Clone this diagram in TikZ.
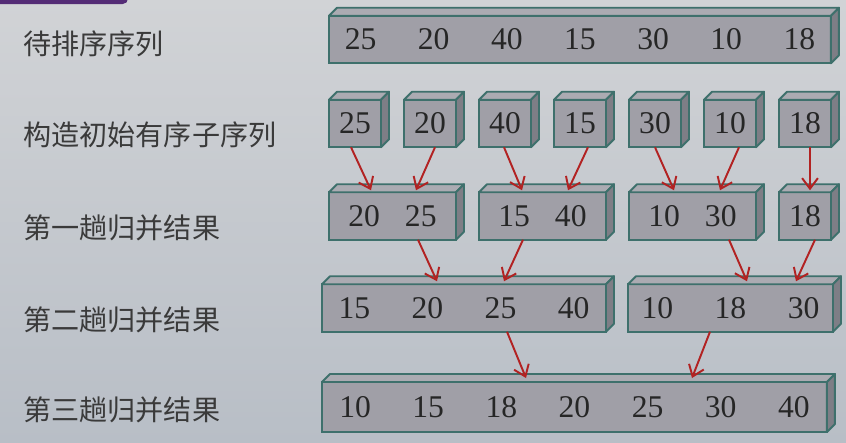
\documentclass[tikz,border=0pt]{standalone}
\usepackage{fontspec}
\setmainfont{Liberation Serif}
\newfontfamily\cjk{Noto Sans CJK SC}
\usepackage{xcolor}
\usepackage{tikz}
\usetikzlibrary{positioning,calc,arrows.meta}
\definecolor{slabfill}{RGB}{160,159,167}
\definecolor{slabtop}{RGB}{171,171,178}
\definecolor{slabside}{RGB}{126,126,134}
\definecolor{slabline}{RGB}{62,112,108}
\definecolor{mergered}{RGB}{178,34,34}
\definecolor{bgtop}{RGB}{209,211,214}
\definecolor{bgbottom}{RGB}{184,190,198}
\definecolor{barpurple}{RGB}{84,44,118}
\definecolor{labelgray}{RGB}{58,58,58}

\newcommand{\numgap}{\hspace{0.83cm}}
\newcommand{\pairgap}{\hspace{0.5cm}}
% top and right faces of a block
\newcommand{\slabfaces}[1]{%
  \filldraw[slabface, fill=slabtop] (#1.north west) -- ++(8,-8) -- ($(#1.north east)+(8,-8)$) -- (#1.north east) -- cycle;
  \filldraw[slabface, fill=slabside] (#1.north east) -- ++(8,-8) -- ($(#1.south east)+(8,-8)$) -- (#1.south east) -- cycle;}

\begin{document}
\begin{tikzpicture}[
  x=0.02cm, y=-0.02cm,
  % front face of a block
  slab/.style={
    draw=slabline,
    fill=slabfill,
    line width=1.1pt,
    minimum height=0.95cm,
    inner sep=0pt, outer sep=0pt,
    text=black!85,
    font=\fontsize{18}{20}\selectfont
  },
  slabface/.style={draw=slabline, line width=1.1pt, line join=round},
  % row labels on the left
  lab/.style={anchor=west, inner sep=0pt, text=labelgray, font=\cjk\fontsize{16}{18}\selectfont},
  merge/.style={draw=mergered, line width=1.1pt, -{Straight Barb[length=6pt,width=9pt]}}
  ]
  % background
  \useasboundingbox (0,0) rectangle (846,443);
  \shade[top color=bgtop, bottom color=bgbottom] (0,0) rectangle (846,443);
  \fill[barpurple, rounded corners=3pt] (-10,-10) rectangle (128,4);

  % labels
  \node[lab] (l1) at (23,44)  {待排序序列};
  \node[lab] (l2) at (23,135) {构造初始有序子序列};
  \node[lab] (l3) at (23,228) {第一趟归并结果};
  \node[lab] (l4) at (23,320) {第二趟归并结果};
  \node[lab] (l5) at (23,410) {第三趟归并结果};

  % unsorted sequence
  \node[slab, minimum width=10.04cm] (s) at (580,39.5)
    {25\numgap 20\numgap 40\numgap 15\numgap 30\numgap 10\numgap 18};
  \slabfaces{s}

  % initial runs of length 1
  \node[slab, minimum width=1.04cm] (b1) at (355,123.5) {25};
  \node[slab, minimum width=1.04cm] (b2) at (430,123.5) {20};
  \node[slab, minimum width=1.04cm] (b3) at (505,123.5) {40};
  \node[slab, minimum width=1.04cm] (b4) at (580,123.5) {15};
  \node[slab, minimum width=1.04cm] (b5) at (655,123.5) {30};
  \node[slab, minimum width=1.04cm] (b6) at (730,123.5) {10};
  \node[slab, minimum width=1.04cm] (b7) at (805,123.5) {18};
  \slabfaces{b1} \slabfaces{b2} \slabfaces{b3} \slabfaces{b4}
  \slabfaces{b5} \slabfaces{b6} \slabfaces{b7}

  % first pass
  \node[slab, minimum width=2.54cm] (m1) at (392.5,216) {20\pairgap 25};
  \node[slab, minimum width=2.54cm] (m2) at (542.5,216) {15\pairgap 40};
  \node[slab, minimum width=2.54cm] (m3) at (692.5,216) {10\pairgap 30};
  \node[slab, minimum width=1.04cm] (m4) at (805,216)   {18};
  \slabfaces{m1} \slabfaces{m2} \slabfaces{m3} \slabfaces{m4}

  % second pass
  \node[slab, minimum width=5.68cm] (p1) at (464,308)   {15\numgap 20\numgap 25\numgap 40};
  \node[slab, minimum width=4.1cm]  (p2) at (730.5,308) {10\numgap 18\numgap 30};
  \slabfaces{p1} \slabfaces{p2}

  % third pass
  \node[slab, minimum width=10.1cm, minimum height=1cm] (q) at (574.5,407)
    {10\numgap 15\numgap 18\numgap 20\numgap 25\numgap 30\numgap 40};
  \slabfaces{q}

  % merge arrows
  \draw[merge] ($(b1.south)+(-4,0)$)  -- ($(m1.north)+(-21.5,-2)$);
  \draw[merge] ($(b2.south)+(5,0)$)   -- ($(m1.north)+(23.5,-2)$);
  \draw[merge] ($(b3.south)+(-1,0)$)  -- ($(m2.north)+(-20.5,-2)$);
  \draw[merge] ($(b4.south)+(8,0)$)   -- ($(m2.north)+(25.5,-2)$);
  \draw[merge] ($(b5.south)+(0,0)$)   -- ($(m3.north)+(-18.5,-2)$);
  \draw[merge] ($(b6.south)+(9,0)$)   -- ($(m3.north)+(27.5,-2)$);
  \draw[merge] ($(b7.south)+(5,0)$)   -- ($(m4.north)+(5,-2)$);

  \draw[merge] ($(m1.south)+(25.5,0)$)  -- ($(p1.north)+(-27,-3)$);
  \draw[merge] ($(m2.south)+(-19.5,0)$) -- ($(p1.north)+(40,-3)$);
  \draw[merge] ($(m3.south)+(36.5,0)$)  -- ($(p2.north)+(16.5,-3)$);
  \draw[merge] ($(m4.south)+(10,0)$)    -- ($(p2.north)+(65.5,-3)$);

  \draw[merge] ($(p1.south)+(43,0)$)    -- ($(q.north)+(-48.5,-4)$);
  \draw[merge] ($(p2.south)+(-20.5,0)$) -- ($(q.north)+(117.5,-4)$);
\end{tikzpicture}
\end{document}
